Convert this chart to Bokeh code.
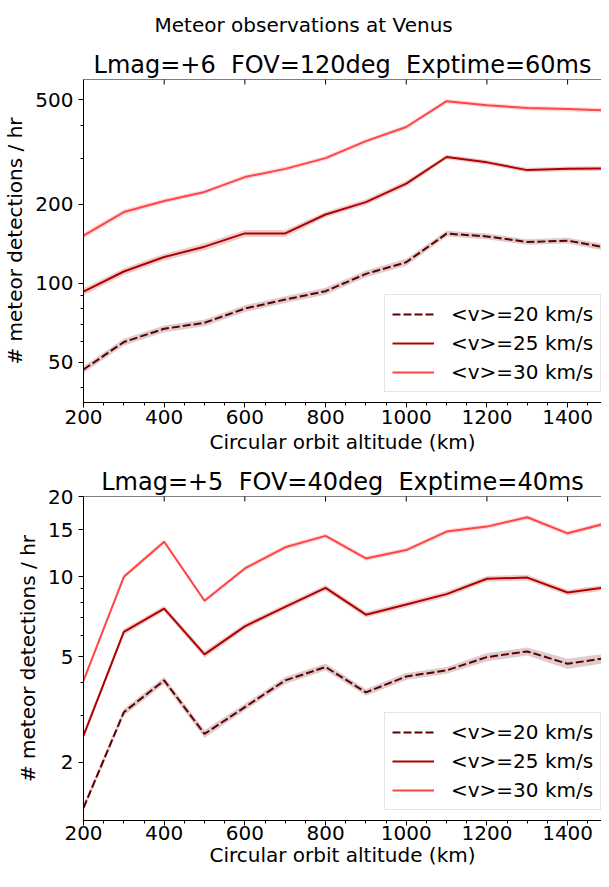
import math
from bokeh.plotting import figure
from bokeh.models import (FixedTicker, PrintfTickFormatter, Title, Span,
                          Legend, LegendItem, Range1d)
from bokeh.layouts import column
from bokeh.embed import file_html
from bokeh.resources import INLINE

FONT = "DejaVu Sans"
NB = "\u00a0"

# ---------------- data ----------------
altitude = [200, 300, 400, 500, 600, 700, 800, 900, 1000, 1100, 1200, 1300, 1400, 1500]
labels = ["<v>=20 km/s", "<v>=25 km/s", "<v>=30 km/s"]

# Panel 1: Lmag=+6, FOV=120deg, Exptime=60ms
top_v20 = [47.0, 59.8, 67.2, 70.8, 80.2, 86.8, 93.4, 108.7, 120.4, 154.7, 151.0, 143.8, 145.5, 136.5]
top_v25 = [93, 111, 126, 138, 155, 155, 183, 204, 240, 303, 289, 270, 273, 274]
top_v30 = [152, 187, 206, 223, 254, 273, 300, 348, 394, 494, 477, 465, 461, 455]
top_e20 = [0.03, 0.03, 0.03, 0.03, 0.03, 0.03, 0.03, 0.03, 0.03, 0.025, 0.025, 0.025, 0.025, 0.03]
top_e25 = [0.03, 0.03, 0.03, 0.03, 0.03, 0.03, 0.025, 0.025, 0.025, 0.02, 0.02, 0.02, 0.02, 0.02]
top_e30 = [0.025, 0.025, 0.02, 0.02, 0.02, 0.02, 0.02, 0.02, 0.02, 0.02, 0.02, 0.02, 0.02, 0.02]

# Panel 2: Lmag=+5, FOV=40deg, Exptime=40ms
bot_v20 = [1.35, 3.09, 4.07, 2.56, 3.23, 4.07, 4.57, 3.67, 4.21, 4.44, 4.98, 5.23, 4.70, 4.95]
bot_v25 = [2.52, 6.19, 7.58, 5.10, 6.50, 7.69, 9.07, 7.19, 7.85, 8.59, 9.81, 9.91, 8.71, 9.13]
bot_v30 = [4.06, 9.98, 13.52, 8.11, 10.73, 12.88, 14.22, 11.70, 12.58, 14.76, 15.41, 16.71, 14.54, 15.93]
bot_e20 = [0.03, 0.03, 0.03, 0.035, 0.03, 0.03, 0.03, 0.03, 0.03, 0.03, 0.035, 0.035, 0.045, 0.04]
bot_e25 = [0.03, 0.025, 0.025, 0.03, 0.025, 0.025, 0.025, 0.025, 0.025, 0.025, 0.025, 0.025, 0.025, 0.025]
bot_e30 = [0.02, 0.02, 0.02, 0.02, 0.02, 0.02, 0.02, 0.02, 0.02, 0.02, 0.02, 0.02, 0.02, 0.02]

x_ticks = [200, 400, 600, 800, 1000, 1200, 1400]
x_minor = [250, 300, 350, 450, 500, 550, 650, 700, 750, 850, 900, 950,
           1050, 1100, 1150, 1250, 1300, 1350, 1450, 1500]
top_yticks = [50, 100, 200, 500]
top_yminor = [40, 60, 70, 80, 90, 300, 400]
bot_yticks = [2, 5, 10, 15, 20]
bot_yminor = [3, 4, 6, 7, 8, 9]

colors = ["#5f0000", "#b00000", "#ff4545"]
dashes = ["8 3", "solid", "solid"]


def make_panel(title, series, errs, yr, yticks, yminor, height, mb_top, mb_bottom,
               lab_std, axlab_std, title_std, suptitle=None):
    p = figure(width=601, height=height, y_axis_type="log",
               x_range=Range1d(200, 1484), y_range=Range1d(*yr),
               output_backend="svg", toolbar_location=None, title_location=None,
               min_border_left=79, min_border_right=0,
               min_border_top=mb_top, min_border_bottom=mb_bottom)
    p.outline_line_color = None
    p.xgrid.visible = False
    p.ygrid.visible = False

    xa = p.xaxis[0]
    xa.ticker = FixedTicker(ticks=x_ticks, minor_ticks=x_minor)
    xa.axis_label = "Circular orbit altitude (km)"
    ya = p.yaxis[0]
    ya.ticker = FixedTicker(ticks=yticks, minor_ticks=yminor)
    ya.formatter = PrintfTickFormatter(format="%d")
    ya.axis_label = "# meteor detections / hr"
    for ax in (xa, ya):
        ax.axis_line_color = "black"
        ax.major_tick_line_color = "black"
        ax.minor_tick_line_color = "black"
        ax.major_tick_in = 0
        ax.major_tick_out = 5
        ax.minor_tick_in = 0
        ax.minor_tick_out = 3
        ax.major_label_text_font = FONT
        ax.major_label_text_font_size = "20px"
        ax.major_label_text_color = "black"
        ax.axis_label_text_font = FONT
        ax.axis_label_text_font_size = "20px"
        ax.axis_label_text_font_style = "normal"
        ax.axis_label_text_color = "black"
    xa.major_label_standoff = lab_std
    xa.axis_label_standoff = axlab_std
    ya.major_label_standoff = 5
    ya.axis_label_standoff = 5

    # top spine with inward ticks (no labels)
    p.add_layout(Span(location=yr[1], dimension="width", line_color="black", line_width=1))
    p.scatter(x=x_ticks, y=[yr[1]] * len(x_ticks), marker="dash", size=10,
              angle=math.pi / 2, line_color="black", line_width=1)

    p.add_layout(Title(text=title, align="center", text_font=FONT,
                       text_font_size="24px", text_font_style="normal",
                       text_color="black", standoff=title_std), "above")
    if suptitle:
        p.add_layout(Title(text=suptitle, align="left", offset=71, text_font=FONT,
                           text_font_size="20px", text_font_style="normal",
                           text_color="black", standoff=21), "above")

    items = []
    for lab, y, e, c, d in zip(labels, series, errs, colors, dashes):
        lo = [v * (1 - f) for v, f in zip(y, e)]
        hi = [v * (1 + f) for v, f in zip(y, e)]
        p.varea(x=altitude, y1=lo, y2=hi, fill_color=c, fill_alpha=0.2)
        r = p.line(altitude, y, line_color=c, line_width=2, line_dash=d)
        items.append(LegendItem(label=lab, renderers=[r]))

    leg = Legend(items=items, location=(301, 10),
                 label_text_font=FONT, label_text_font_size="20px",
                 label_text_color="black", glyph_width=42, glyph_height=24,
                 label_height=24, label_standoff=17, spacing=5, padding=7,
                 border_line_color="#cccccc", border_line_width=1,
                 background_fill_alpha=0.8)
    p.add_layout(leg)
    return p


p1 = make_panel("Lmag=+6" + NB + " FOV=120deg" + NB + " Exptime=60ms",
                [top_v20, top_v25, top_v30], [top_e20, top_e25, top_e30],
                (35.2, 597.6), top_yticks, top_yminor,
                height=458, mb_top=78, mb_bottom=56, lab_std=2, axlab_std=3,
                title_std=2, suptitle="Meteor observations at Venus")
p2 = make_panel("Lmag=+5" + NB + " FOV=40deg" + NB + " Exptime=40ms",
                [bot_v20, bot_v25, bot_v30], [bot_e20, bot_e25, bot_e30],
                (1.21, 20), bot_yticks, bot_yminor,
                height=413, mb_top=38, mb_bottom=51, lab_std=0, axlab_std=0,
                title_std=2)

layout = column(p1, p2)
open("out.html", "w").write(file_html(layout, INLINE))
